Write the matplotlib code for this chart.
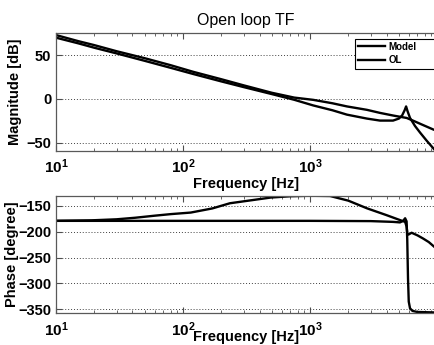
"""Open loop TF: Bode plot of model vs measured open loop."""

import math

import matplotlib
matplotlib.use("Agg")
import matplotlib.pyplot as plt
from matplotlib.ticker import FuncFormatter, LogLocator, NullFormatter

# magnitude [dB]
mag_model_f = [10, 15, 20, 30, 50, 80, 120, 200, 300, 500, 750, 1060, 1500, 1950,
               2800, 3550, 4500, 5000, 5300, 5550, 5700, 5850, 6120, 6700, 7350, 8300, 9800]
mag_model = [70, 63.5, 58.5, 52, 43.5, 35.5, 28.5, 20, 13.5, 5.5, -1, -7.5, -13, -18,
             -22.5, -24.8, -24.8, -22.5, -19, -13, -8.6, -14, -21.8, -31, -38.6, -48, -60]
mag_ol_f = [10, 15, 20, 30, 50, 80, 120, 200, 300, 500, 750, 1060, 1500, 1950,
            2800, 3550, 4500, 5760, 6500, 7500, 9400, 9800]
mag_ol = [73, 66, 61.5, 54.5, 46.5, 38.5, 31, 22.5, 15.5, 7, 1.5, -1.1, -5, -8.6,
          -12.5, -16, -19, -21.8, -25, -29, -35.2, -36]

# phase [degree]
ph_model_f = [10, 100, 1000, 3000, 4500, 5100, 5400, 5600, 5750, 5820, 5900, 5980,
              6120, 6400, 7000, 9800]
ph_model = [-179, -179, -179, -179.5, -181, -182, -179, -174, -180, -215, -290, -335,
            -348, -353, -355, -356]
ph_ol_f = [10, 19, 30, 42, 60, 80, 115, 170, 234, 350, 490, 700, 1000, 1436, 2000,
           2820, 4000, 5100, 5600, 5750, 5850, 6000, 6300, 7000, 7740, 8600, 9800]
ph_ol = [-179, -178, -176, -173, -169, -166, -163, -155, -145, -139, -134, -131.5,
         -130.5, -131, -140, -155, -168, -177.5, -181, -190, -206, -205, -202, -207,
         -213, -220, -232]

mag_ticks = [-50, 0, 50]
ph_ticks = [-350, -300, -250, -200, -150]

plt.rcParams["font.family"] = ["Liberation Sans", "DejaVu Sans"]
plt.rcParams["mathtext.fontset"] = "custom"
plt.rcParams["mathtext.bf"] = "Liberation Sans:bold"
plt.rcParams["mathtext.rm"] = "Liberation Sans"

W, H = 434, 345
fig = plt.figure(figsize=(W / 100, H / 100), dpi=100)
ax1 = fig.add_axes([56 / W, 1 - 150.5 / H, 380 / W, 117.2 / H])
ax2 = fig.add_axes([56 / W, 1 - 313 / H, 380 / W, 117 / H])

lw = 1.7
ax1.semilogx(mag_model_f, mag_model, color="k", lw=lw, label="Model")
ax1.semilogx(mag_ol_f, mag_ol, color="k", lw=lw, label="OL")
ax2.semilogx(ph_model_f, ph_model, color="k", lw=lw)
ax2.semilogx(ph_ol_f, ph_ol, color="k", lw=lw)

ax1.set_ylim(-59, 75)
ax2.set_ylim(-357, -131)
ax1.set_yticks(mag_ticks)
ax2.set_yticks(ph_ticks)

fmt = FuncFormatter(lambda v, p: r"$\mathbf{10^{%d}}$" % round(math.log10(v)))
for ax in (ax1, ax2):
    ax.set_xlim(10, 9800)
    ax.xaxis.set_major_locator(LogLocator(base=10))
    ax.xaxis.set_minor_locator(LogLocator(base=10, subs=range(2, 10)))
    ax.xaxis.set_major_formatter(fmt)
    ax.xaxis.set_minor_formatter(NullFormatter())
    ax.grid(axis="y", which="major", linestyle=(0, (1, 2)), color="0.25", lw=0.7)
    ax.tick_params(which="both", direction="in", top=True, right=False, color="0.3")
    ax.tick_params(which="major", length=4)
    ax.tick_params(which="minor", length=2)
    ax.tick_params(axis="x", labelsize=11, pad=5)
    ax.tick_params(axis="y", labelsize=10.5, pad=3.5)
    for lab in ax.get_yticklabels():
        lab.set_fontweight("bold")
    for sp in ax.spines.values():
        sp.set_color("0.35")
        sp.set_linewidth(0.9)
    ax.set_xlabel("Frequency [Hz]", fontsize=10.5, fontweight="bold")

ax1.xaxis.set_label_coords(0.5, -0.286)
ax2.xaxis.set_label_coords(0.5, -0.205)
ax1.xaxis.label.set_va("center")
ax2.xaxis.label.set_va("center")

ax1.set_ylabel("Magnitude [dB]", fontsize=10.5, fontweight="bold")
ax2.set_ylabel("Phase [degree]", fontsize=10.5, fontweight="bold")
ax1.yaxis.set_label_coords(-0.089, 0.5)
ax2.yaxis.set_label_coords(-0.098, 0.5)

ax1.set_title("Open loop TF", fontsize=11.5, pad=6)

leg = ax1.legend(loc="upper left", mode="expand",
                 bbox_to_anchor=(355 / W, 1 - 65.5 / H, (442 - 355) / W, 27 / H),
                 bbox_transform=fig.transFigure, borderaxespad=0, fancybox=False,
                 framealpha=1, edgecolor="k", handlelength=2.7, handletextpad=0.4,
                 labelspacing=0.35, borderpad=0.35, prop={"size": 7, "weight": "bold"})
leg.get_frame().set_linewidth(0.8)

fig.savefig("out.png", dpi=100)
